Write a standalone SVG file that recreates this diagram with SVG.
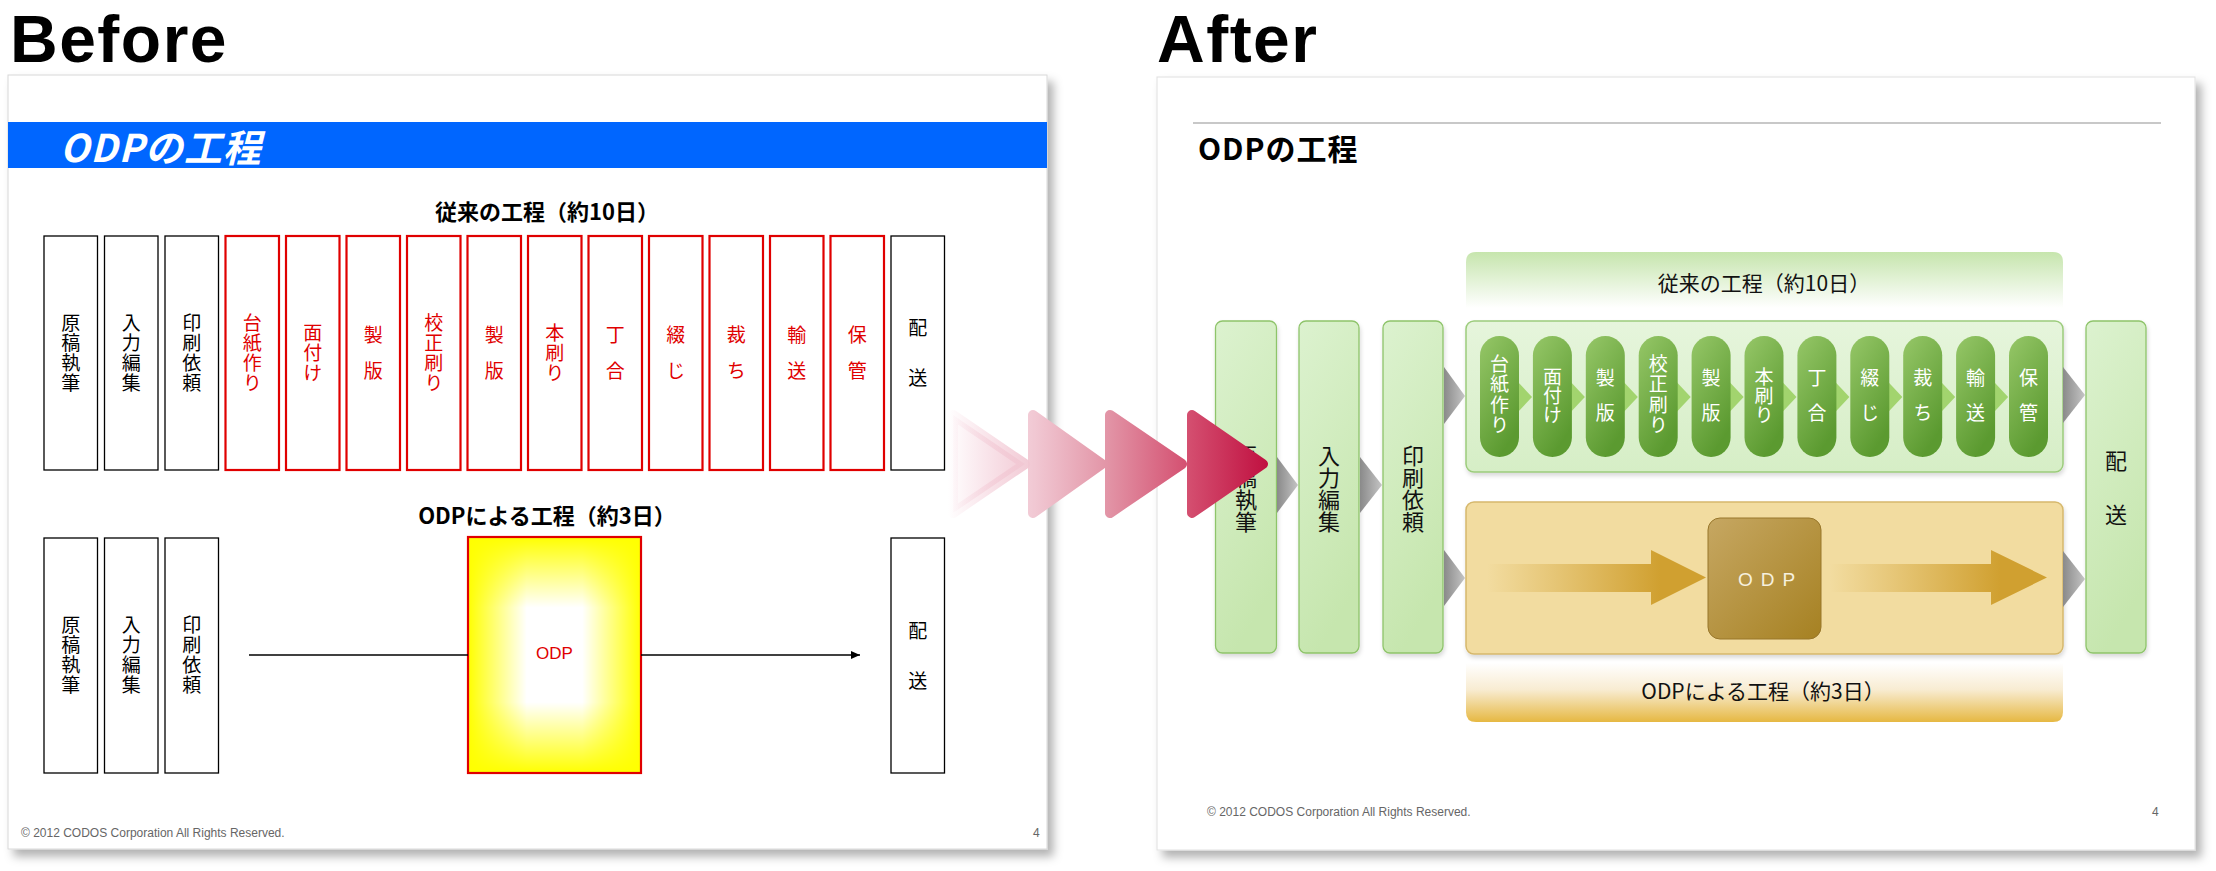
<svg xmlns="http://www.w3.org/2000/svg" width="2216" height="871" viewBox="0 0 2216 871">
<defs>
<style>
.hd{font-family:"Liberation Sans","Noto Sans",sans-serif;font-weight:bold;font-size:66px;fill:#000;letter-spacing:1.5px}
.jp{font-family:"Noto Sans CJK JP","Noto Sans",sans-serif}
.v{font-family:"Noto Sans CJK JP",sans-serif;writing-mode:vertical-rl;text-anchor:start}
.vb{font-size:19px;fill:#000}
.vr{font-size:19px;fill:#e00000}
.vw{font-size:19px;fill:#fff}
.vc{font-size:22px;fill:#111}
.bx{fill:#fff;stroke:#000;stroke-width:1.3}
.rx{fill:#fff;stroke:#e00000;stroke-width:2.2}
.ft{font-family:"Liberation Sans",sans-serif;font-size:12px;fill:#666}
.pill{fill:url(#gPill)}
.ptri{fill:#a2d46e}
.gtri{fill:url(#gGray)}
.col{fill:url(#gCol);stroke:#8ec46a;stroke-width:1.3}
.pk{fill:url(#gPink);stroke:url(#gPink);stroke-width:10;stroke-linejoin:round}
</style>
<filter id="sh" x="-5%" y="-5%" width="115%" height="115%"><feDropShadow dx="6" dy="7" stdDeviation="5" flood-color="#000" flood-opacity="0.3"/></filter>
<filter id="sh2" x="-20%" y="-10%" width="140%" height="130%"><feDropShadow dx="1" dy="3" stdDeviation="2" flood-color="#000" flood-opacity="0.15"/></filter>
<linearGradient id="gYH" x1="0" y1="0" x2="1" y2="0"><stop offset="0" stop-color="#ffff00"/><stop offset="0.34" stop-color="#ffff00" stop-opacity="0"/><stop offset="0.66" stop-color="#ffff00" stop-opacity="0"/><stop offset="1" stop-color="#ffff00"/></linearGradient>
<linearGradient id="gYV" x1="0" y1="0" x2="0" y2="1"><stop offset="0" stop-color="#ffff00"/><stop offset="0.3" stop-color="#ffff00" stop-opacity="0"/><stop offset="0.7" stop-color="#ffff00" stop-opacity="0"/><stop offset="1" stop-color="#ffff00"/></linearGradient>
<linearGradient id="gHead" x1="0" y1="0" x2="0" y2="1"><stop offset="0" stop-color="#c6e5ad"/><stop offset="1" stop-color="#ffffff"/></linearGradient>
<linearGradient id="gCont" x1="0" y1="0" x2="0" y2="1"><stop offset="0" stop-color="#e6f5dc"/><stop offset="1" stop-color="#d6eec6"/></linearGradient>
<linearGradient id="gPill" x1="0" y1="0" x2="0.5" y2="1"><stop offset="0" stop-color="#96c768"/><stop offset="1" stop-color="#5b9a30"/></linearGradient>
<linearGradient id="gCol" x1="0" y1="0" x2="0.3" y2="1"><stop offset="0" stop-color="#dcf2cf"/><stop offset="1" stop-color="#c6e6ae"/></linearGradient>
<linearGradient id="gGray" x1="0" y1="0" x2="1" y2="0"><stop offset="0" stop-color="#8a8a8a"/><stop offset="1" stop-color="#c4c4c4"/></linearGradient>
<linearGradient id="gOdp" x1="0" y1="0" x2="1" y2="1"><stop offset="0" stop-color="#c6a762"/><stop offset="1" stop-color="#a68122"/></linearGradient>
<linearGradient id="gBot" x1="0" y1="0" x2="0" y2="1"><stop offset="0" stop-color="#ffffff"/><stop offset="0.45" stop-color="#f8ecd2"/><stop offset="1" stop-color="#e6b842"/></linearGradient>
<linearGradient id="gArrL" gradientUnits="userSpaceOnUse" x1="1487" y1="0" x2="1660" y2="0"><stop offset="0" stop-color="#d4a436" stop-opacity="0"/><stop offset="1" stop-color="#d0a030"/></linearGradient>
<linearGradient id="gArrR" gradientUnits="userSpaceOnUse" x1="1830" y1="0" x2="2000" y2="0"><stop offset="0" stop-color="#d4a436" stop-opacity="0"/><stop offset="1" stop-color="#d0a030"/></linearGradient>
<linearGradient id="gPink" gradientUnits="userSpaceOnUse" x1="948" y1="0" x2="1268" y2="0"><stop offset="0" stop-color="#f2c0cf" stop-opacity="0"/><stop offset="0.27" stop-color="#f1c8d3"/><stop offset="0.5" stop-color="#e294a6"/><stop offset="0.75" stop-color="#d44f70"/><stop offset="1" stop-color="#c01040"/></linearGradient>
<marker id="ah" markerWidth="10" markerHeight="10" refX="9" refY="5" orient="auto" markerUnits="userSpaceOnUse"><path d="M0,1 L9,5 L0,9 Z" fill="#000"/></marker>
</defs>
<rect width="2216" height="871" fill="#fff"/>

<text class="hd" x="10" y="62">Before</text>
<text class="hd" x="1157" y="62">After</text>

<!-- BEFORE slide -->
<g id="before-slide">
<rect x="8" y="75" width="1039" height="774" fill="#fff" stroke="#d8d8d8" stroke-width="1" filter="url(#sh)"/>
<rect x="8" y="122" width="1039" height="46" fill="#0066ff"/>
<text class="jp" x="60" y="145" dominant-baseline="central" font-size="38" font-style="italic" font-weight="bold" fill="#fff" letter-spacing="1">ODPの工程</text>
<text class="jp" x="547" y="210" text-anchor="middle" dominant-baseline="central" font-size="22" font-weight="bold" fill="#000">従来の工程（約10日）</text>
<text class="jp" x="547" y="514" text-anchor="middle" dominant-baseline="central" font-size="22" font-weight="bold" fill="#000">ODPによる工程（約3日）</text>
<text class="ft" x="21" y="837">© 2012 CODOS Corporation All Rights Reserved.</text>
<text class="ft" x="1033" y="837" font-size="11">4</text>
</g>

<g id="b-top-1"><rect class="bx" x="44" y="236" width="53.5" height="234"/><text class="v vb" x="70.75" y="313.5" letter-spacing="1">原稿執筆</text></g>
<g id="b-top-2"><rect class="bx" x="104.5" y="236" width="53.5" height="234"/><text class="v vb" x="131.25" y="313.5" letter-spacing="1">入力編集</text></g>
<g id="b-top-3"><rect class="bx" x="165" y="236" width="53.5" height="234"/><text class="v vb" x="191.75" y="313.5" letter-spacing="1">印刷依頼</text></g>
<g id="b-top-4"><rect class="rx" x="225.5" y="236" width="53.5" height="234"/><text class="v vr" x="252.25" y="313.5" letter-spacing="1">台紙作り</text></g>
<g id="b-top-5"><rect class="rx" x="286" y="236" width="53.5" height="234"/><text class="v vr" x="312.75" y="323.5" letter-spacing="1">面付け</text></g>
<g id="b-top-6"><rect class="rx" x="346.5" y="236" width="53.5" height="234"/><text class="v vr" x="373.25" y="325.5" letter-spacing="17">製版</text></g>
<g id="b-top-7"><rect class="rx" x="407" y="236" width="53.5" height="234"/><text class="v vr" x="433.75" y="313.5" letter-spacing="1">校正刷り</text></g>
<g id="b-top-8"><rect class="rx" x="467.5" y="236" width="53.5" height="234"/><text class="v vr" x="494.25" y="325.5" letter-spacing="17">製版</text></g>
<g id="b-top-9"><rect class="rx" x="528" y="236" width="53.5" height="234"/><text class="v vr" x="554.75" y="323.5" letter-spacing="1">本刷り</text></g>
<g id="b-top-10"><rect class="rx" x="588.5" y="236" width="53.5" height="234"/><text class="v vr" x="615.25" y="325.5" letter-spacing="17">丁合</text></g>
<g id="b-top-11"><rect class="rx" x="649" y="236" width="53.5" height="234"/><text class="v vr" x="675.75" y="325.5" letter-spacing="17">綴じ</text></g>
<g id="b-top-12"><rect class="rx" x="709.5" y="236" width="53.5" height="234"/><text class="v vr" x="736.25" y="325.5" letter-spacing="17">裁ち</text></g>
<g id="b-top-13"><rect class="rx" x="770" y="236" width="53.5" height="234"/><text class="v vr" x="796.75" y="325.5" letter-spacing="17">輸送</text></g>
<g id="b-top-14"><rect class="rx" x="830.5" y="236" width="53.5" height="234"/><text class="v vr" x="857.25" y="325.5" letter-spacing="17">保管</text></g>
<g id="b-top-15"><rect class="bx" x="891" y="236" width="53.5" height="234"/><text class="v vb" x="917.75" y="318.5" letter-spacing="31">配送</text></g>

<g id="b-bot-1"><rect class="bx" x="44" y="538" width="53.5" height="235"/><text class="v vb" x="70.75" y="615.5" letter-spacing="1">原稿執筆</text></g>
<g id="b-bot-2"><rect class="bx" x="104.5" y="538" width="53.5" height="235"/><text class="v vb" x="131.25" y="615.5" letter-spacing="1">入力編集</text></g>
<g id="b-bot-3"><rect class="bx" x="165" y="538" width="53.5" height="235"/><text class="v vb" x="191.75" y="615.5" letter-spacing="1">印刷依頼</text></g>
<g id="b-odp">
<rect x="468" y="537" width="173" height="236" fill="#fff"/>
<rect x="468" y="537" width="173" height="236" fill="url(#gYH)"/>
<rect x="468" y="537" width="173" height="236" fill="url(#gYV)"/>
<rect x="468" y="537" width="173" height="236" fill="none" stroke="#e00000" stroke-width="2.2"/>
<text x="554.5" y="653" text-anchor="middle" dominant-baseline="central" font-family="Liberation Sans,sans-serif" font-size="17" fill="#e00000">ODP</text>
</g>
<g id="b-bot-4"><rect class="bx" x="891" y="538" width="53.5" height="235"/><text class="v vb" x="917.75" y="621.5" letter-spacing="31">配送</text></g>

<g id="b-connectors">
<line x1="249" y1="655" x2="468" y2="655" stroke="#000" stroke-width="1.3"/>
<line x1="641" y1="655" x2="860" y2="655" stroke="#000" stroke-width="1.3" marker-end="url(#ah)"/>
</g>

<!-- AFTER slide -->
<g id="after-slide">
<rect x="1157" y="77" width="1038" height="773" fill="#fff" stroke="#e0e0e0" stroke-width="1" filter="url(#sh)"/>
<line x1="1193" y1="123" x2="2161" y2="123" stroke="#c8c8c8" stroke-width="2"/>
<text class="jp" x="1198" y="147" dominant-baseline="central" font-size="30" font-weight="bold" fill="#000" letter-spacing="1">ODPの工程</text>
<text class="ft" x="1207" y="816" font-size="11.5">© 2012 CODOS Corporation All Rights Reserved.</text>
<text class="ft" x="2152" y="816" font-size="11">4</text>
</g>

<g id="a-head-conv">
<path d="M1466,308 L1466,262 Q1466,252 1476,252 L2053,252 Q2063,252 2063,262 L2063,308 Z" fill="url(#gHead)"/>
<text class="jp" x="1764" y="282" text-anchor="middle" dominant-baseline="central" font-size="21" fill="#111">従来の工程（約10日）</text>
</g>

<g id="a-conv-container">
<rect x="1466" y="321" width="597" height="151" rx="8" fill="url(#gCont)" stroke="#9ccc7c" stroke-width="1.5" filter="url(#sh2)"/>
</g>

<g id="a-pill-arrows">
<polygon class="ptri" points="1517,381 1532,397 1517,413"/>
<polygon class="ptri" points="1569.9,381 1584.9,397 1569.9,413"/>
<polygon class="ptri" points="1622.8,381 1637.8,397 1622.8,413"/>
<polygon class="ptri" points="1675.7,381 1690.7,397 1675.7,413"/>
<polygon class="ptri" points="1728.6,381 1743.6,397 1728.6,413"/>
<polygon class="ptri" points="1781.5,381 1796.5,397 1781.5,413"/>
<polygon class="ptri" points="1834.4,381 1849.4,397 1834.4,413"/>
<polygon class="ptri" points="1887.3,381 1902.3,397 1887.3,413"/>
<polygon class="ptri" points="1940.2,381 1955.2,397 1940.2,413"/>
<polygon class="ptri" points="1993.1,381 2008.1,397 1993.1,413"/>
</g>

<g id="a-pill-1"><rect class="pill" x="1480" y="336" width="39" height="121" rx="19.5"/><text class="v vw" x="1499.5" y="354" letter-spacing="1.5">台紙作り</text></g>
<g id="a-pill-2"><rect class="pill" x="1532.9" y="336" width="39" height="121" rx="19.5"/><text class="v vw" x="1552.4" y="367.5" letter-spacing="0">面付け</text></g>
<g id="a-pill-3"><rect class="pill" x="1585.8" y="336" width="39" height="121" rx="19.5"/><text class="v vw" x="1605.3" y="368.5" letter-spacing="16">製版</text></g>
<g id="a-pill-4"><rect class="pill" x="1638.7" y="336" width="39" height="121" rx="19.5"/><text class="v vw" x="1658.2" y="354" letter-spacing="1.5">校正刷り</text></g>
<g id="a-pill-5"><rect class="pill" x="1691.6" y="336" width="39" height="121" rx="19.5"/><text class="v vw" x="1711.1" y="368.5" letter-spacing="16">製版</text></g>
<g id="a-pill-6"><rect class="pill" x="1744.5" y="336" width="39" height="121" rx="19.5"/><text class="v vw" x="1764" y="367.5" letter-spacing="0">本刷り</text></g>
<g id="a-pill-7"><rect class="pill" x="1797.4" y="336" width="39" height="121" rx="19.5"/><text class="v vw" x="1816.9" y="368.5" letter-spacing="16">丁合</text></g>
<g id="a-pill-8"><rect class="pill" x="1850.3" y="336" width="39" height="121" rx="19.5"/><text class="v vw" x="1869.8" y="368.5" letter-spacing="16">綴じ</text></g>
<g id="a-pill-9"><rect class="pill" x="1903.2" y="336" width="39" height="121" rx="19.5"/><text class="v vw" x="1922.7" y="368.5" letter-spacing="16">裁ち</text></g>
<g id="a-pill-10"><rect class="pill" x="1956.1" y="336" width="39" height="121" rx="19.5"/><text class="v vw" x="1975.6" y="368.5" letter-spacing="16">輸送</text></g>
<g id="a-pill-11"><rect class="pill" x="2009" y="336" width="39" height="121" rx="19.5"/><text class="v vw" x="2028.5" y="368.5" letter-spacing="16">保管</text></g>

<g id="a-odp-container">
<rect x="1466" y="502" width="597" height="152" rx="8" fill="#f2dca0" stroke="#d6b86c" stroke-width="1.5" filter="url(#sh2)"/>
</g>
<g id="a-odp-arrows">
<polygon points="1487,564 1651,564 1651,550 1706,577.5 1651,605 1651,592 1487,592" fill="url(#gArrL)"/>
<polygon points="1830,564 1991,564 1991,550 2047,577.5 1991,605 1991,592 1830,592" fill="url(#gArrR)"/>
</g>
<g id="a-odp">
<rect x="1708" y="518" width="113" height="121" rx="12" fill="url(#gOdp)" stroke="#98762a" stroke-width="1"/>
<text x="1738" y="579" dominant-baseline="central" font-family="Liberation Sans,sans-serif" font-size="19" fill="#f6f0de" letter-spacing="8">ODP</text>
</g>
<g id="a-head-odp">
<path d="M1466,663 L2063,663 L2063,712 Q2063,722 2053,722 L1476,722 Q1466,722 1466,712 Z" fill="url(#gBot)"/>
<text class="jp" x="1763" y="690" text-anchor="middle" dominant-baseline="central" font-size="21" fill="#111">ODPによる工程（約3日）</text>
</g>

<g id="a-col-1"><rect class="col" x="1215.5" y="321" width="61" height="332" rx="7" filter="url(#sh2)"/><text class="v vc" x="1246" y="445" letter-spacing="0">原稿執筆</text></g>
<g id="a-col-2"><rect class="col" x="1299" y="321" width="60" height="332" rx="7" filter="url(#sh2)"/><text class="v vc" x="1329" y="445" letter-spacing="0">入力編集</text></g>
<g id="a-col-3"><rect class="col" x="1383" y="321" width="60" height="332" rx="7" filter="url(#sh2)"/><text class="v vc" x="1413" y="445" letter-spacing="0">印刷依頼</text></g>
<g id="a-col-4"><rect class="col" x="2086" y="321" width="60" height="332" rx="7" filter="url(#sh2)"/><text class="v vc" x="2116" y="450" letter-spacing="32">配送</text></g>

<g id="a-connectors">
<polygon class="gtri" points="1277,457 1298,485 1277,513"/>
<polygon class="gtri" points="1360,457 1382,485 1360,513"/>
<polygon class="gtri" points="1444,367 1465,396 1444,424"/>
<polygon class="gtri" points="1444,550 1465,578 1444,606"/>
<polygon class="gtri" points="2063,367 2085,395 2063,423"/>
<polygon class="gtri" points="2063,551 2085,579 2063,607"/>
</g>

<g id="transition-arrows">
<polygon class="pk" points="953,415 1025,464 953,513"/>
<polygon class="pk" points="1033,415 1102,464 1033,513"/>
<polygon class="pk" points="1110,415 1182,464 1110,513"/>
<polygon class="pk" points="1192,415 1263,464 1192,513"/>
</g>
</svg>
